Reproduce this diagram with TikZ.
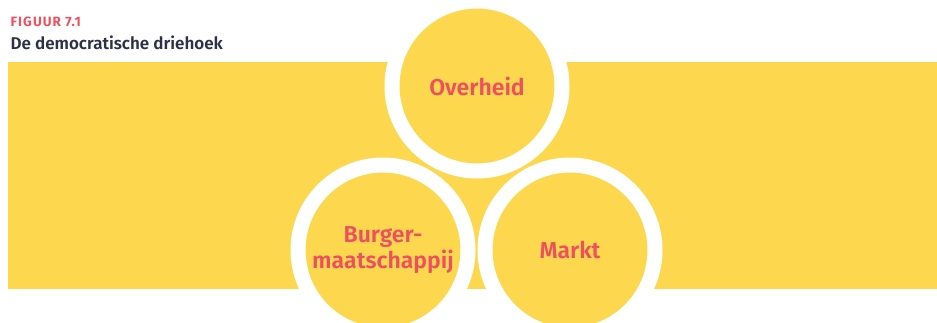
\documentclass[tikz,border=0pt]{standalone}
\usepackage{fontspec}
\setmainfont{Fira Sans}[BoldFont={Fira Sans SemiBold}]
\newfontfamily\figfont{Fira Sans Bold}[LetterSpace=8]
\begin{document}
\begin{tikzpicture}[x=1pt,y=-1pt,
  ringdisc/.style={circle,fill=bandyellow,draw=white,line width=15pt,minimum size=170pt,inner sep=0pt,
     font=\fontsize{23}{27}\selectfont\bfseries,text=labelred,align=center},
]
\definecolor{bandyellow}{HTML}{FDD84E}
\definecolor{labelred}{HTML}{EF5060}
\definecolor{titlenavy}{HTML}{2D3047}
\useasboundingbox (0,0) rectangle (937,322);
\clip (0,0) rectangle (937,322);
\fill[bandyellow] (8,62) rectangle (937,289);
\node[anchor=base west,text=labelred,font=\figfont\fontsize{13.5}{15}\selectfont] (fig) at (7,26) {FIGUUR 7.1};
\node[anchor=base west,text=titlenavy,font=\fontsize{17}{19}\selectfont\bfseries] (title) at (7,49) {De democratische driehoek};
\node[ringdisc] (overheid) at (477,86) {Overheid};
\node[ringdisc] (burger) at (383,250) {Burger-\\[-1pt]maatschappij};
\node[ringdisc] (markt) at (570,250) {Markt};
\end{tikzpicture}
\end{document}
